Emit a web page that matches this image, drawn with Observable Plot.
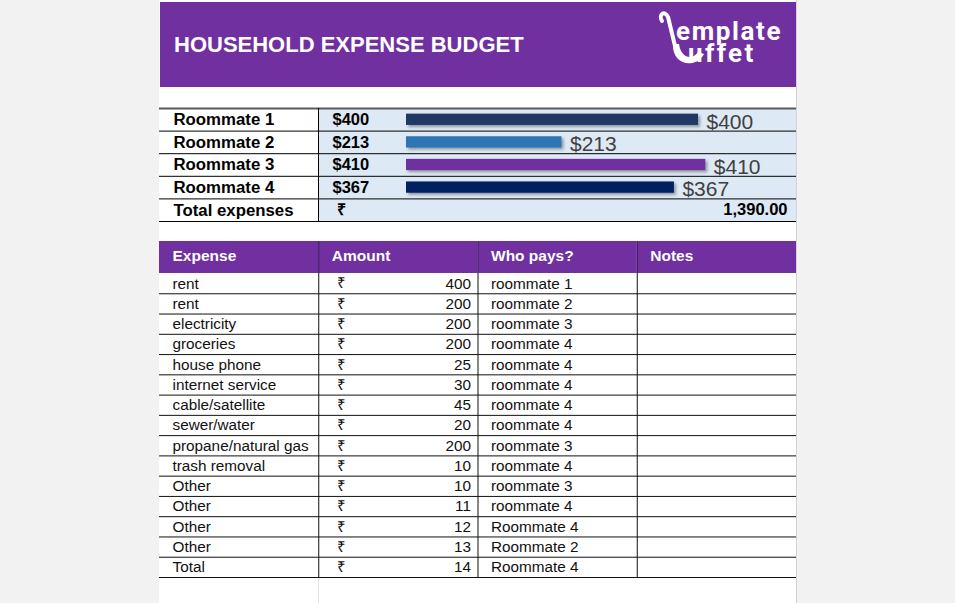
<!DOCTYPE html>
<html>
<head>
<meta charset="utf-8">
<script src="https://cdn.jsdelivr.net/npm/d3@7"></script>
<script src="https://cdn.jsdelivr.net/npm/@observablehq/plot@0.6"></script>
<style>
html,body{margin:0;padding:0;background:#f2f2f2;width:955px;height:603px;overflow:hidden;font-family:"Liberation Sans",Arial,sans-serif;}
#sheet{position:absolute;left:159px;top:0;width:637px;height:603px;background:#fff;border-right:1px solid #d4d4d4;}
#banner{position:absolute;left:1px;top:2px;width:636px;height:85px;background:#7030a0;}
#title{position:absolute;left:14px;top:30px;color:#fff;font:bold 22px "Liberation Sans",Arial,sans-serif;white-space:nowrap;}
#logo{position:absolute;left:0;top:0;}
#summary{position:absolute;left:0;top:107px;}
#thead{position:absolute;left:0;top:241px;}
#tbody{position:absolute;left:0;top:272px;}
#gridline{position:absolute;left:159px;top:578px;width:1px;height:25px;background:#e4e4e4;}
</style>
</head>
<body>
<div id="sheet">
  <div id="banner">
    <div id="title">HOUSEHOLD EXPENSE BUDGET</div>
    <svg id="logo" width="636" height="85">
      <path d="M502 19 C498 12,505 8,508 15 L516 48" stroke="#fff" stroke-width="4" fill="none" stroke-linecap="round"/>
      <path d="M513 42 C512 64,536 67,544 52 L538 50 C533 58,521 57,519 42 Z" fill="#fff"/>
      <text fill="#fff" font-family="Roboto, 'Open Sans', sans-serif" font-weight="700" font-size="26"><tspan x="516" y="38" letter-spacing="1.6">emplate</tspan><tspan x="528" y="60" letter-spacing="2.4">uffet</tspan></text>
    </svg>
  </div>
  <div id="summary"></div>
  <div id="thead"></div>
  <div id="tbody"></div>
  <div id="gridline"></div>
</div>
<script>
// ---- data ----
const roommates = ["Roommate 1", "Roommate 2", "Roommate 3", "Roommate 4"];
const shares = [400, 213, 410, 367];
const barColors = ["#203864", "#2e75b6", "#7030a0", "#002060"];
const totalLabel = "Total expenses";
const totalValue = 1390;

const headers = ["Expense", "Amount", "Who pays?", "Notes"];
const expenses = ["rent", "rent", "electricity", "groceries", "house phone", "internet service",
  "cable/satellite", "sewer/water", "propane/natural gas", "trash removal", "Other", "Other",
  "Other", "Other", "Total"];
const amounts = [400, 200, 200, 200, 25, 30, 45, 20, 200, 10, 10, 11, 12, 13, 14];
const payers = ["roommate 1", "roommate 2", "roommate 3", "roommate 4", "roommate 4", "roommate 4",
  "roommate 4", "roommate 4", "roommate 3", "roommate 4", "roommate 3", "roommate 4",
  "Roommate 4", "Roommate 2", "Roommate 4"];

// ---- styles ----
const W = 637;
const FONT = "Liberation Sans, Arial, sans-serif";
const baseStyle = {background: "transparent", fontFamily: FONT, overflow: "visible", color: "#000"};
const purple = "#7030a0";
const lightBlue = "#dde9f5";

// ---- summary table ----
const summaryRows = roommates.map((name, i) => ({name, value: shares[i], color: barColors[i], row: i}));
const allRows = [...summaryRows.map(d => ({name: d.name, row: d.row})), {name: totalLabel, row: roommates.length}];
const nRows = allRows.length;
const mL = 247, mR = 98;

const summary = Plot.plot({
  width: W, height: 116,
  marginTop: 1, marginBottom: 2, marginLeft: mL, marginRight: mR,
  x: {type: "linear", domain: [0, 400], axis: null},
  y: {type: "linear", domain: [0, nRows], range: [1, 114], axis: null},
  style: baseStyle,
  marks: [
    Plot.rect(allRows, {y1: d => d.row, y2: d => d.row + 1, fill: lightBlue, insetLeft: -(mL - 159), insetRight: -mR}),
    Plot.ruleY(allRows, {y: d => d.row + 1, stroke: "#000", strokeWidth: 1, insetLeft: -mL, insetRight: -mR}),
    Plot.ruleY([0], {stroke: "#5a5a5a", strokeWidth: 2, insetLeft: -mL, insetRight: -mR}),
    Plot.ruleX([0], {y1: 0, y2: nRows, dx: -(mL - 159), stroke: "#000", strokeWidth: 1}),
    Plot.rect(summaryRows, {x1: 0, x2: "value", y1: d => d.row + 0.25, y2: d => d.row + 0.75, fill: "color"}),
    Plot.text(summaryRows, {x: "value", y: d => d.row + 0.5, text: d => "$" + d.value, textAnchor: "start",
      dx: 8, dy: 2, fontSize: 21, fill: "#404040", fontWeight: 300}),
    Plot.text(allRows, {y: d => d.row + 0.5, text: "name", frameAnchor: "left", textAnchor: "start",
      dx: -(mL - 14), fontSize: 16.8, fontWeight: "bold", fill: "#000"}),
    Plot.text(summaryRows, {y: d => d.row + 0.5, text: d => "$" + d.value, frameAnchor: "left", textAnchor: "start",
      dx: -(mL - 173), fontSize: 16.5, fontWeight: "bold", fill: "#000"}),
    Plot.text([totalValue], {y: nRows - 0.5, text: () => "₹", frameAnchor: "left", textAnchor: "start",
      dx: -(mL - 177), fontSize: 16, fontWeight: "bold", fill: "#000"}),
    Plot.text([totalValue], {y: nRows - 0.5, text: d => d3.format(",.2f")(d), frameAnchor: "right", textAnchor: "end",
      dx: 628 - (W - mR), fontSize: 16.5, fontWeight: "bold", fill: "#000"})
  ]
});
const rectGroups = summary.querySelectorAll('g[aria-label="rect"]');
if (rectGroups.length > 1) rectGroups[1].style.filter = "drop-shadow(2px 2px 1.5px rgba(0,0,0,0.35))";
document.getElementById("summary").appendChild(summary);

// ---- expense table header ----
const thead = Plot.plot({
  width: W, height: 32, margin: 0,
  x: {type: "linear", domain: [0, headers.length], range: [0, W], axis: null},
  style: baseStyle,
  marks: [
    Plot.rect(headers, {x1: (d, i) => i, x2: (d, i) => i + 1, fill: purple}),
    Plot.ruleX(headers.slice(1), {x: (d, i) => i + 1, stroke: "#3d1a5a", strokeWidth: 1}),
    Plot.text(headers, {x: (d, i) => i, text: d => d, textAnchor: "start", dx: 13, dy: -1,
      fontSize: 15.5, fontWeight: "bold", fill: "#fff"})
  ]
});
document.getElementById("thead").appendChild(thead);

// ---- expense table body ----
const rows = expenses.map((name, i) => ({name, amount: amounts[i], payer: payers[i], row: i}));
const tbody = Plot.plot({
  width: W, height: 306, margin: 0,
  x: {type: "linear", domain: [0, headers.length], range: [0, W], axis: null},
  y: {type: "linear", domain: [0, rows.length], range: [1, 305], axis: null},
  style: baseStyle,
  marks: [
    Plot.ruleY(rows, {y: d => d.row + 1, stroke: "#111", strokeWidth: 1}),
    Plot.ruleX(headers.slice(1), {x: (d, i) => i + 1, y1: 0, y2: rows.length, stroke: "#111", strokeWidth: 1}),
    Plot.text(rows, {x: 0, y: d => d.row + 0.5, text: "name", textAnchor: "start", dx: 13, fontSize: 15.3, fill: "#111"}),
    Plot.text(rows, {x: 1, y: d => d.row + 0.5, text: () => "₹", textAnchor: "start", dx: 18, fontSize: 15, fill: "#111"}),
    Plot.text(rows, {x: 2, y: d => d.row + 0.5, text: "amount", textAnchor: "end", dx: -7, fontSize: 15.3, fill: "#111"}),
    Plot.text(rows, {x: 2, y: d => d.row + 0.5, text: "payer", textAnchor: "start", dx: 13, fontSize: 15.3, fill: "#111"})
  ]
});
document.getElementById("tbody").appendChild(tbody);
</script>
</body>
</html>
